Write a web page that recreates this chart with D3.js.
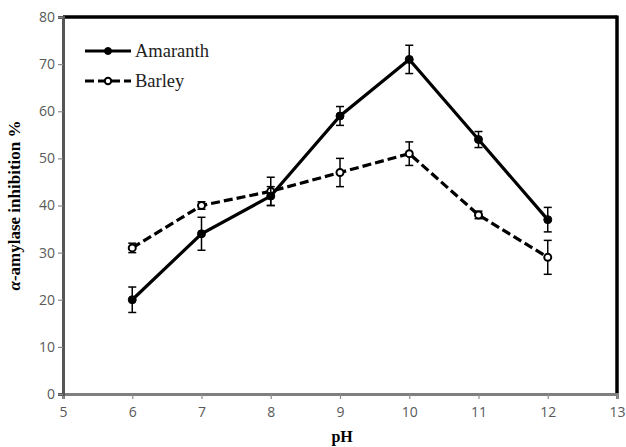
<!DOCTYPE html>
<html>
<head>
<meta charset="utf-8">
<script src="https://cdn.jsdelivr.net/npm/d3@7"></script>
<style>
  body { margin: 0; background: #fff; }
  svg { display: block; }
</style>
</head>
<body>
<div id="chart"></div>
<script>
// values
const phValues = [6, 7, 8, 9, 10, 11, 12];
const amaranth = [20, 34, 42, 59, 71, 54, 37];
const amaranthErr = [2.7, 3.5, 2, 2, 3, 1.7, 2.6];
const barley = [31, 40, 43, 47, 51, 38, 29];
const barleyErr = [1, 0.8, 3, 3, 2.5, 0.8, 3.6];
const xTicks = [5, 6, 7, 8, 9, 10, 11, 12, 13];
const yTicks = [0, 10, 20, 30, 40, 50, 60, 70, 80];

const width = 626, height = 447;
const margin = {top: 17, right: 9, bottom: 53, left: 63};

const svg = d3.select("#chart").append("svg")
  .attr("width", width).attr("height", height);

const x = d3.scaleLinear().domain([5, 13]).range([margin.left, width - margin.right]);
const y = d3.scaleLinear().domain([0, 80]).range([height - margin.bottom, margin.top]);

// frame: black top/right, grey axes left/bottom
svg.append("line")
  .attr("x1", x(5)).attr("x2", x(13)).attr("y1", y(80)).attr("y2", y(80))
  .attr("stroke", "#000").attr("stroke-width", 3.5);
svg.append("line")
  .attr("x1", x(13)).attr("x2", x(13)).attr("y1", y(80) - 1.5).attr("y2", y(0))
  .attr("stroke", "#000").attr("stroke-width", 3.5);

const xAxis = svg.append("g")
  .attr("transform", `translate(0,${y(0)})`)
  .call(d3.axisBottom(x).tickValues(xTicks).tickSize(5).tickFormat(d3.format("d")));
const yAxis = svg.append("g")
  .attr("transform", `translate(${x(5)},0)`)
  .call(d3.axisLeft(y).tickValues(yTicks).tickSize(5).tickFormat(d3.format("d")));

[xAxis, yAxis].forEach(a => {
  a.select(".domain").attr("stroke", "#7f7f7f").attr("stroke-width", 3);
  a.selectAll(".tick line").attr("stroke", "#8c8c8c").attr("stroke-width", 1.2);
  a.selectAll(".tick text")
    .attr("fill", "#595959")
    .style("font-family", "'Open Sans', 'DejaVu Sans', sans-serif")
    .style("font-size", "14px");
});
xAxis.selectAll(".tick text").attr("dy", "1.05em");
yAxis.selectAll(".tick text").attr("x", -8);
yAxis.select(".domain").attr("stroke", "#555");

// axis titles
svg.append("text")
  .attr("x", x(9.03)).attr("y", 442)
  .attr("text-anchor", "middle")
  .style("font-family", "'Liberation Serif', 'Times New Roman', serif")
  .style("font-weight", "bold").style("font-size", "16px")
  .text("pH");
svg.append("text")
  .attr("transform", `translate(20,${y(40)}) rotate(-90)`)
  .attr("text-anchor", "middle")
  .style("font-family", "'Liberation Serif', 'Times New Roman', serif")
  .style("font-weight", "bold").style("font-size", "17px")
  .html('<tspan font-style="italic">α</tspan>-amylase inhibition %');

const line = d3.line().x(d => x(d[0])).y(d => y(d[1]));

function drawSeries(vals, errs, dash, filled) {
  const pts = phValues.map((p, i) => [p, vals[i], errs[i]]);
  const g = svg.append("g");
  g.append("path")
    .datum(pts)
    .attr("d", line)
    .attr("fill", "none")
    .attr("stroke", "#000")
    .attr("stroke-width", 3.2)
    .attr("stroke-dasharray", dash);
  const eb = g.selectAll(".err").data(pts).enter().append("g");
  eb.append("line")
    .attr("x1", d => x(d[0])).attr("x2", d => x(d[0]))
    .attr("y1", d => y(d[1] - d[2])).attr("y2", d => y(d[1] + d[2]))
    .attr("stroke", "#000").attr("stroke-width", 1.5);
  [1, -1].forEach(s => {
    eb.append("line")
      .attr("x1", d => x(d[0]) - 4).attr("x2", d => x(d[0]) + 4)
      .attr("y1", d => y(d[1] + s * d[2])).attr("y2", d => y(d[1] + s * d[2]))
      .attr("stroke", "#000").attr("stroke-width", 1.5);
  });
  g.selectAll(".mk").data(pts).enter().append("circle")
    .attr("cx", d => x(d[0])).attr("cy", d => y(d[1]))
    .attr("r", filled ? 4 : 3.5)
    .attr("fill", filled ? "#000" : "#fff")
    .attr("stroke", "#000").attr("stroke-width", filled ? 1 : 2);
}

drawSeries(barley, barleyErr, "9,4", false);
drawSeries(amaranth, amaranthErr, null, true);

// legend
const legend = svg.append("g");
const legendItems = [
  {name: "Amaranth", dash: null, filled: true, yy: 51},
  {name: "Barley", dash: "9,4", filled: false, yy: 81}
];
legendItems.forEach(it => {
  legend.append("line")
    .attr("x1", 85).attr("x2", 131).attr("y1", it.yy).attr("y2", it.yy)
    .attr("stroke", "#000").attr("stroke-width", 3.2)
    .attr("stroke-dasharray", it.dash);
  legend.append("circle")
    .attr("cx", 108).attr("cy", it.yy).attr("r", it.filled ? 3.5 : 3.2)
    .attr("fill", it.filled ? "#000" : "#fff")
    .attr("stroke", "#000").attr("stroke-width", it.filled ? 1 : 2);
  legend.append("text")
    .attr("x", 135).attr("y", it.yy + 6)
    .style("font-family", "'Liberation Serif', 'Times New Roman', serif")
    .style("font-size", "18.5px")
    .attr("fill", "#222")
    .text(it.name);
});
</script>
</body>
</html>
